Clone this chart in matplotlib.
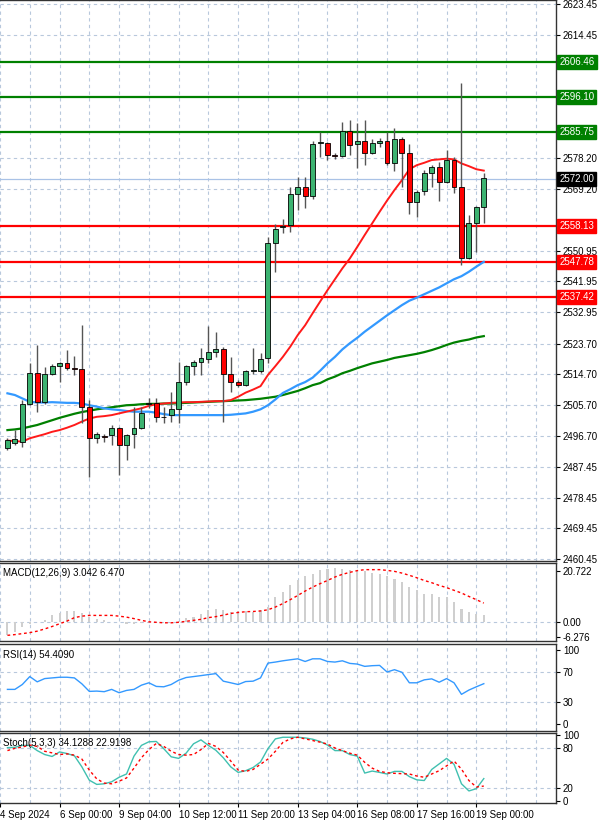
import matplotlib
matplotlib.use("Agg")
import matplotlib.pyplot as plt
import matplotlib.transforms as mtrans
import numpy as np

plt.rcParams["font.family"] = "Liberation Sans"

# ---- data ----
opens  = [2492.9,2494.4,2494.9,2506.1,2515.1,2506.6,2514.7,2517.1,2517.9,2516.4,2516.1,2505.2,2495.9,2496.6,2496.8,2498.8,2493.9,2497.1,2498.8,2506.1,2506.3,2502.2,2502.7,2504.4,2512.5,2517.1,2518.4,2519.1,2521.3,2522.0,2514.7,2512.5,2511.5,2515.6,2515.6,2519.4,2553.3,2558.0,2558.5,2567.5,2569.8,2567.0,2582.7,2582.7,2578.8,2578.8,2586.2,2582.3,2583.2,2579.8,2582.5,2583.3,2576.8,2583.7,2579.8,2565.4,2568.6,2573.9,2575.6,2571.2,2577.6,2569.8,2548.7,2559.0,2563.7]
closes = [2495.4,2495.6,2506.1,2515.1,2506.6,2514.9,2517.1,2517.9,2516.4,2516.2,2505.2,2495.9,2497.3,2496.4,2498.8,2493.9,2496.8,2498.8,2503.2,2506.2,2502.2,2502.0,2504.4,2512.5,2517.1,2518.4,2519.4,2521.3,2522.0,2514.7,2512.5,2511.5,2515.6,2515.7,2519.1,2553.3,2557.5,2558.2,2567.5,2569.8,2567.0,2582.2,2582.9,2579.1,2578.7,2586.2,2582.0,2583.2,2579.8,2582.5,2583.3,2576.8,2583.7,2579.8,2565.4,2568.3,2573.9,2575.6,2571.2,2577.6,2569.6,2548.7,2559.0,2563.7,2572.2]
highs  = [2495.9,2498.3,2507.1,2518.1,2523.3,2516.9,2517.7,2518.4,2521.8,2520.0,2529.1,2507.1,2497.8,2497.3,2499.8,2499.3,2497.3,2505.2,2505.2,2507.6,2507.6,2505.2,2509.6,2518.4,2517.4,2518.9,2522.3,2528.8,2527.2,2522.8,2519.8,2513.0,2515.9,2522.3,2520.8,2555.1,2558.8,2560.2,2569.8,2572.7,2572.7,2583.3,2585.9,2583.0,2579.6,2588.9,2589.5,2588.4,2589.3,2583.7,2584.0,2585.9,2586.9,2584.3,2582.3,2568.8,2574.7,2576.1,2577.1,2580.5,2578.4,2600.1,2561.5,2564.1,2573.7]
lows   = [2492.4,2493.9,2493.4,2505.6,2503.7,2506.1,2514.4,2512.5,2515.9,2514.5,2500.3,2484.6,2494.4,2494.9,2493.9,2485.1,2489.5,2492.9,2498.5,2504.7,2500.8,2500.3,2500.8,2500.5,2511.5,2514.5,2514.5,2518.1,2519.8,2500.8,2509.6,2511.0,2511.2,2514.9,2515.1,2517.9,2544.8,2556.3,2556.6,2562.9,2563.4,2566.1,2578.6,2577.6,2577.8,2578.4,2579.1,2575.4,2576.1,2579.4,2581.5,2576.1,2574.5,2569.8,2561.9,2560.8,2567.3,2569.8,2565.7,2570.9,2567.8,2546.8,2548.4,2550.7,2559.2]
ma_red   = [2495.2,2495.1,2494.9,2495.9,2496.5,2497.1,2497.8,2498.3,2499.0,2499.8,2500.8,2501.7,2502.2,2502.4,2502.7,2503.2,2503.7,2504.2,2504.7,2505.4,2505.9,2506.1,2506.3,2506.4,2506.5,2506.5,2506.6,2506.7,2506.8,2506.8,2507.1,2508.1,2509.3,2510.2,2511.2,2514.5,2517.1,2519.8,2522.8,2526.2,2529.1,2532.6,2536.0,2539.4,2542.6,2545.8,2548.7,2552.1,2555.6,2559.0,2562.4,2565.7,2568.8,2571.7,2574.9,2576.1,2576.8,2577.6,2577.8,2578.0,2577.8,2576.6,2575.8,2574.9,2574.5]
ma_blue  = [2509.1,2508.6,2507.6,2506.6,2506.4,2506.4,2506.5,2506.4,2506.3,2506.3,2506.1,2505.6,2505.2,2504.7,2504.4,2504.2,2503.9,2503.7,2503.7,2503.7,2503.4,2503.0,2502.7,2502.7,2502.7,2502.7,2502.7,2502.7,2502.7,2502.7,2502.8,2503.0,2503.2,2503.7,2504.4,2505.6,2507.3,2509.2,2510.3,2511.5,2512.4,2513.7,2515.7,2517.9,2519.8,2522.0,2523.8,2525.4,2527.2,2528.8,2530.4,2532.0,2533.5,2535.0,2536.3,2537.2,2538.2,2539.2,2540.2,2541.4,2542.6,2543.5,2544.8,2546.3,2547.7]
ma_green = [2498.3,2498.5,2498.8,2499.3,2499.8,2500.5,2501.2,2501.9,2502.5,2503.1,2503.6,2504.0,2504.4,2504.7,2505.0,2505.3,2505.6,2505.7,2505.9,2506.0,2506.0,2506.1,2506.1,2506.2,2506.3,2506.4,2506.5,2506.6,2506.7,2506.8,2506.9,2507.0,2507.1,2507.3,2507.5,2507.8,2508.1,2508.6,2509.2,2509.8,2510.6,2511.5,2512.1,2513.2,2514.0,2515.0,2515.7,2516.5,2517.2,2517.9,2518.4,2518.9,2519.5,2519.9,2520.3,2520.7,2521.2,2521.8,2522.5,2523.3,2524.0,2524.5,2524.9,2525.5,2525.9]
macd_hist = [-5.4,-4.1,-2.0,-0.7,0.0,0.7,2.7,3.7,4.3,4.5,3.7,2.0,1.4,0.9,0.0,0.0,-0.7,-0.7,-0.4,0.0,0.0,0.0,0.0,0.3,1.6,2.0,3.4,4.7,5.4,5.0,4.1,4.5,4.5,4.1,4.7,6.1,10.2,12.2,14.9,17.2,18.9,19.6,21.0,21.7,22.0,21.7,21.3,21.3,20.7,19.9,19.4,18.7,17.6,16.3,14.2,12.9,11.5,11.2,10.2,10.2,8.1,5.4,4.1,3.4,3.0]
macd_signal = [-5.4,-5.1,-4.7,-4.3,-3.7,-2.8,-1.8,-0.7,0.4,1.8,2.4,2.7,2.7,2.7,2.7,2.4,2.0,1.4,0.7,0.1,-0.1,-0.3,-0.3,-0.1,0.3,0.7,1.1,1.8,2.2,2.8,3.5,3.9,4.2,4.3,4.5,5.0,6.1,7.5,9.1,10.8,12.6,14.2,15.6,16.9,18.3,19.4,20.2,20.9,21.3,21.3,21.3,21.0,20.6,19.9,19.0,18.0,16.9,16.0,14.9,14.0,12.9,11.8,10.4,9.1,7.7]
rsi = [46.7,46.7,53.3,64.0,56.9,61.3,62.2,63.1,63.1,62.2,54.2,44.0,44.4,43.6,46.7,42.2,45.3,46.7,52.4,55.6,50.7,50.2,53.3,59.1,62.7,64.0,65.3,66.7,68.0,57.8,55.6,53.3,57.3,57.8,62.2,82.2,83.6,85.3,86.7,88.0,84.4,88.0,88.0,84.4,83.6,85.3,81.8,80.9,77.8,78.7,79.1,70.2,73.3,69.8,55.6,55.6,59.6,60.9,56.4,61.3,55.6,40.0,45.8,50.2,54.4]
stoch_k = [80.5,81.0,83.9,83.9,76.1,70.2,67.3,74.1,71.7,68.3,51.7,31.7,25.4,26.3,29.3,36.1,41.0,67.8,83.9,89.3,89.8,79.0,66.8,64.4,72.2,86.3,92.2,83.9,76.6,65.4,51.7,43.4,45.9,50.7,59.0,79.0,93.7,96.1,96.1,96.1,95.1,93.2,89.8,84.4,76.1,76.1,70.2,67.8,42.4,45.4,43.4,41.0,44.9,44.9,37.1,32.2,31.2,47.8,56.1,64.4,55.6,26.3,15.6,19.0,34.1]
stoch_d = [76.1,79.5,81.5,84.4,82.4,75.1,72.7,70.2,71.2,69.3,63.4,46.8,33.7,27.3,26.3,30.2,35.1,49.8,65.4,77.6,86.8,82.4,75.1,70.2,69.3,70.2,77.6,86.8,82.4,73.2,60.5,46.8,44.9,47.8,55.6,63.4,75.1,88.3,93.7,96.1,93.7,91.2,88.8,85.9,80.0,76.1,72.2,69.3,58.5,49.8,44.9,42.9,42.0,41.5,41.0,38.0,36.1,41.0,45.9,53.2,60.5,48.3,31.2,21.5,22.9]
res_levels = [2606.46, 2596.10, 2585.75]
sup_levels = [2558.13, 2547.78, 2537.42]
last_price = 2572.00
ytick_vals = [2623.45,2614.45,2578.20,2569.20,2550.95,2541.95,2532.95,2523.70,2514.70,2505.70,2496.70,2487.45,2478.45,2469.45,2460.45]
xtick_idx = [-1,7,15,23,31,39,47,55,63]
xtick_labels = ["4 Sep 2024","6 Sep 00:00","9 Sep 04:00","10 Sep 12:00","11 Sep 20:00","13 Sep 04:00","16 Sep 08:00","17 Sep 16:00","19 Sep 00:00"]

W, H = 600, 823
FS = 7
fig = plt.figure(figsize=(6, 8.23), dpi=100)
fig.patch.set_facecolor("white")
AXR = 556
def rect(top, bot):
    return [0, (H - bot) / H, AXR / W, (bot - top) / H]

ax  = fig.add_axes(rect(0, 561))
axm = fig.add_axes(rect(563, 641), sharex=ax)
axr = fig.add_axes(rect(644, 731), sharex=ax)
axs = fig.add_axes(rect(733, 803), sharex=ax)

n = len(opens)
x = np.arange(n)
grid_kw = dict(color="#b8c8dc", linestyle=(0, (3, 3)), linewidth=0.8)
vgrid = np.arange(-1, 75, 4)
for a in (ax, axm, axr, axs):
    a.set_xlim(-0.67, 73.7)
    for g in vgrid:
        a.axvline(g, zorder=0, **grid_kw)
    a.yaxis.tick_right()
    a.tick_params(axis="y", labelsize=FS, length=3, pad=2, colors="black")
    a.tick_params(axis="x", length=0, labelbottom=False)
    for s in a.spines.values():
        s.set_color("#333333")
        s.set_linewidth(1)
    a.spines["left"].set_visible(False)

# main
ax.set_ylim(2459.86, 2624.6)
ax.set_yticks(ytick_vals)
ax.set_yticklabels([f"{v:.2f}" for v in ytick_vals])
for v in ytick_vals:
    ax.axhline(v, zorder=0, **grid_kw)
ax.axhline(last_price, color="#a9c2e6", linewidth=0.9, zorder=1)
for lv in res_levels:
    ax.axhline(lv, color="#008000", linewidth=1.6, zorder=2)
for lv in sup_levels:
    ax.axhline(lv, color="#ff0000", linewidth=1.6, zorder=2)
ax.plot(x, ma_green, color="#008000", linewidth=1.6, zorder=3)
ax.plot(x, ma_blue, color="#3399ff", linewidth=1.6, zorder=3)
ax.plot(x, ma_red, color="#ff1a1a", linewidth=1.4, zorder=3)
for i in range(n):
    o, c, h, l = opens[i], closes[i], highs[i], lows[i]
    ax.vlines(i, l, h, color="#555555", linewidth=1, zorder=4)
    col = "#3cb371" if c >= o else "#ff0000"
    bh = max(abs(c - o), 0.25)
    ax.add_patch(plt.Rectangle((i - 0.33, min(o, c)), 0.66, bh, facecolor=col,
                               edgecolor="black", linewidth=0.6, zorder=5))
tr = mtrans.blended_transform_factory(ax.transAxes, ax.transData)
def tag(v, color):
    ax.text(1.006, v, f"{v:.2f}", transform=tr, fontsize=FS, color="white", va="center",
            ha="left", bbox=dict(boxstyle="square,pad=0.2", fc=color, ec=color), zorder=10, clip_on=False)
for lv in res_levels:
    tag(lv, "#008000")
for lv in sup_levels:
    tag(lv, "#ff0000")
tag(last_price, "black")

# MACD
axm.set_ylim(-7.7, 24.0)
axm.set_yticks([20.722, 0.0, -6.276])
axm.set_yticklabels(["20.722", "0.00", "-6.276"])
axm.axhline(0, zorder=0, **grid_kw)
axm.bar(x, macd_hist, width=0.28, color="#cfcfcf", zorder=2)
axm.plot(x, macd_signal, color="#ff0000", linestyle=(0, (2, 2)), linewidth=1, zorder=3)
axm.text(0.005, 0.93, "MACD(12,26,9) 3.042 6.470", transform=axm.transAxes, fontsize=FS, va="top")

# RSI
axr.set_ylim(-9.5, 108)
axr.set_yticks([100, 70, 30, 0])
for v in (70, 30):
    axr.axhline(v, zorder=0, **grid_kw)
axr.plot(x, rsi, color="#3399ff", linewidth=1, zorder=3)
axr.text(0.005, 0.93, "RSI(14) 54.4090", transform=axr.transAxes, fontsize=FS, va="top")

# Stoch
axs.set_ylim(-2.5, 102.5)
axs.set_yticks([100, 80, 20, 0])
for v in (80, 20):
    axs.axhline(v, zorder=0, **grid_kw)
axs.plot(x, stoch_k, color="#40c0b0", linewidth=1, zorder=3)
axs.plot(x, stoch_d, color="#ff0000", linestyle=(0, (2, 2)), linewidth=1, zorder=3)
axs.text(0.005, 0.93, "Stoch(5,3,3) 34.1288 22.9198", transform=axs.transAxes, fontsize=FS, va="top")
axs.set_xticks(xtick_idx)
axs.tick_params(axis="x", length=3, labelbottom=True, labelsize=FS, pad=2)
axs.set_xticklabels(xtick_labels, ha="left")

fig.savefig("out.png", dpi=100, facecolor="white")
